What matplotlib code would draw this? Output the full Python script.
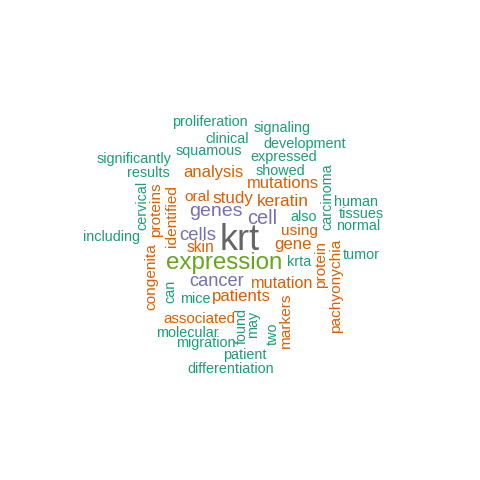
import matplotlib
matplotlib.use("Agg")
import matplotlib.pyplot as plt
import numpy as np

plt.rcParams["font.family"] = ["Liberation Sans", "DejaVu Sans"]

# word frequencies (relative, krt = 100)
words = ["krt", "expression", "cells", "genes", "cell", "cancer",
         "mutations", "analysis", "keratin", "study", "patients", "gene",
         "mutation", "associated", "oral", "skin", "using", "markers",
         "protein", "pachyonychia", "congenita", "proteins", "identified",
         "proliferation", "signaling", "clinical", "development", "squamous",
         "significantly", "expressed", "results", "showed", "carcinoma",
         "cervical", "human", "tissues", "also", "normal", "including",
         "tumor", "krta", "can", "mice", "found", "may", "two",
         "molecular", "migration", "patient", "differentiation"]
freqs = [100, 51, 28, 32, 34, 27,
         20, 20, 23, 22, 21, 21,
         19, 14, 15, 16, 15, 15,
         15, 15, 15, 15, 15,
         11, 11, 11, 11, 11,
         11, 11, 11, 11, 11,
         11, 11, 11, 11, 11, 11,
         11, 11, 11, 11, 11, 11, 11,
         11, 11, 11, 11]

# layout: word centre in pixels (x, y from top) and rotation
layout = {
    "krt": (240, 241, 0), "expression": (224, 263, 0), "cells": (198, 235, 0),
    "genes": (216, 212, 0), "cell": (262, 219, 0), "cancer": (217, 282, 0),
    "mutations": (283, 184, 0), "analysis": (213, 173, 0),
    "keratin": (283, 201, 0), "study": (233, 198, 0),
    "patients": (241, 297, 0), "gene": (293, 244, 0),
    "mutation": (282, 284, 0), "associated": (199, 319, 0),
    "oral": (197, 197, 0), "skin": (200, 248, 0), "using": (299, 231, 0),
    "markers": (286, 320, 90), "protein": (321, 264, 90),
    "pachyonychia": (336, 286, 90), "congenita": (151, 277, 90),
    "proteins": (156, 210, 90), "identified": (172, 216, 90),
    "proliferation": (210, 122, 0), "signaling": (282, 128, 0),
    "clinical": (227, 139, 0), "development": (305, 144, 0),
    "squamous": (209, 151, 0), "significantly": (134, 159, 0),
    "expressed": (284, 157, 0), "results": (148, 173, 0),
    "showed": (280, 171, 0), "carcinoma": (327, 197, 90),
    "cervical": (142, 205, 90), "human": (356, 202, 0),
    "tissues": (361, 214, 0), "also": (304, 217, 0),
    "normal": (358, 226, 0), "including": (111, 237, 0),
    "tumor": (361, 255, 0), "krta": (299, 262, 0), "can": (170, 291, 90),
    "mice": (195, 299, 0), "found": (242, 326, 90), "may": (253, 324, 90),
    "two": (273, 334, 90), "molecular": (187, 333, 0),
    "migration": (206, 343, 0), "patient": (245, 355, 0),
    "differentiation": (231, 369, 0),
}

dark2 = ["#1B9E77", "#D95F02", "#7570B3", "#E7298A",
         "#66A61E", "#E6AB02", "#A6761D", "#666666"]

fig = plt.figure(figsize=(4.8, 4.8), dpi=100)
ax = fig.add_axes([0, 0, 1, 1])
ax.set_xlim(0, 480)
ax.set_ylim(480, 0)
ax.axis("off")

fmax = max(freqs)
for w, f in zip(words, freqs):
    nf = f / fmax
    size = 8.4 + 17.6 * nf
    col = dark2[int(np.ceil(len(dark2) * nf)) - 1]
    x, y, rot = layout[w]
    ax.text(x, y, w, fontsize=size, color=col, rotation=rot,
            ha="center", va="center")

fig.savefig("out.png", dpi=100)
